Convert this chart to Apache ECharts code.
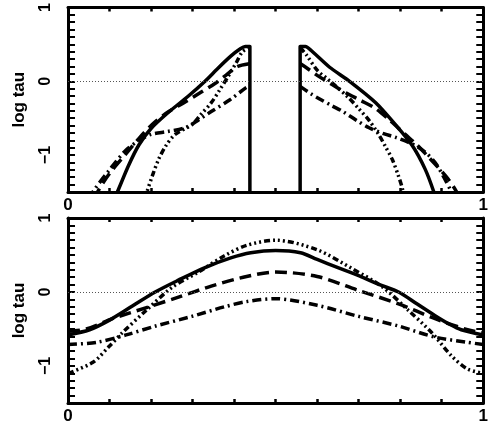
<!DOCTYPE html>
<html>
<head>
<meta charset="utf-8">
<script src="https://cdn.jsdelivr.net/npm/echarts@6/dist/echarts.min.js"></script>
<style>html,body{margin:0;padding:0;background:#fff}#c{width:491px;height:425px}</style>
</head>
<body>
<div id="c"></div>
<script>
// ---- Top panel (x: 0..1, log tau) ----
const topSolidL = [[0.112,-1.6],[0.119,-1.5],[0.145,-1.15],[0.171,-0.86],[0.2,-0.64],[0.242,-0.42],[0.29,-0.2],[0.33,0],[0.36,0.17],[0.392,0.34],[0.415,0.44],[0.427,0.47],[0.438,0.47],[0.438,-1.6]];
const topSolidR = [[0.559,-1.6],[0.559,0.47],[0.572,0.47],[0.585,0.42],[0.63,0.19],[0.678,0],[0.741,-0.29],[0.789,-0.59],[0.829,-0.87],[0.86,-1.19],[0.881,-1.5],[0.885,-1.6]];
const topDashL = [[0.065,-1.6],[0.071,-1.5],[0.1,-1.25],[0.14,-0.98],[0.17,-0.78],[0.202,-0.59],[0.24,-0.42],[0.282,-0.28],[0.32,-0.15],[0.354,-0.03],[0.38,0.08],[0.408,0.2],[0.438,0.24]];
const topDashR = [[0.559,0.24],[0.575,0.18],[0.6,0.08],[0.635,-0.04],[0.67,-0.16],[0.705,-0.26],[0.741,-0.37],[0.775,-0.53],[0.812,-0.72],[0.84,-0.86],[0.867,-1.02],[0.892,-1.17],[0.915,-1.32],[0.936,-1.5],[0.942,-1.6]];
const topDashDotL = [[0.055,-1.6],[0.06,-1.5],[0.1,-1.2],[0.14,-0.93],[0.175,-0.79],[0.2,-0.72],[0.24,-0.68],[0.282,-0.63],[0.315,-0.52],[0.345,-0.41],[0.39,-0.25],[0.428,-0.09],[0.438,-0.06]];
const topDashDotR = [[0.559,-0.07],[0.585,-0.17],[0.606,-0.24],[0.635,-0.33],[0.662,-0.41],[0.695,-0.53],[0.725,-0.63],[0.76,-0.71],[0.789,-0.76],[0.829,-0.85],[0.86,-0.96],[0.884,-1.1],[0.905,-1.3],[0.923,-1.5],[0.928,-1.6]];
const topDotL = [[0.185,-1.6],[0.19,-1.5],[0.205,-1.25],[0.218,-1.06],[0.235,-0.88],[0.258,-0.72],[0.298,-0.59],[0.32,-0.45],[0.345,-0.29],[0.365,-0.12],[0.385,0.06],[0.405,0.25],[0.42,0.4],[0.438,0.46]];
const topDotR = [[0.559,0.46],[0.575,0.35],[0.6,0.15],[0.625,0.03],[0.646,-0.07],[0.675,-0.22],[0.7,-0.37],[0.725,-0.53],[0.748,-0.72],[0.765,-0.89],[0.781,-1.06],[0.795,-1.27],[0.805,-1.45],[0.81,-1.6]];

// ---- Bottom panel ----
const botSolid = [[0,-0.58],[0.052,-0.51],[0.1,-0.38],[0.155,-0.19],[0.21,0],[0.266,0.16],[0.33,0.33],[0.392,0.46],[0.44,0.53],[0.5,0.56],[0.56,0.53],[0.6,0.44],[0.65,0.33],[0.7,0.22],[0.75,0.1],[0.796,0],[0.84,-0.16],[0.884,-0.32],[0.92,-0.44],[0.947,-0.51],[1,-0.58]];
const botDash = [[0,-0.53],[0.044,-0.5],[0.107,-0.36],[0.195,-0.2],[0.266,-0.07],[0.345,0.08],[0.43,0.21],[0.5,0.27],[0.6,0.21],[0.7,0.02],[0.796,-0.16],[0.884,-0.36],[0.962,-0.51],[1,-0.55]];
const botDashDot = [[0,-0.71],[0.069,-0.68],[0.14,-0.58],[0.211,-0.46],[0.298,-0.33],[0.377,-0.2],[0.43,-0.13],[0.5,-0.09],[0.6,-0.18],[0.7,-0.33],[0.796,-0.46],[0.884,-0.61],[0.962,-0.68],[1,-0.71]];
const botDot = [[0,-1.1],[0.06,-0.95],[0.1,-0.73],[0.131,-0.55],[0.188,-0.25],[0.25,0.06],[0.314,0.27],[0.377,0.49],[0.43,0.63],[0.5,0.7],[0.6,0.57],[0.686,0.31],[0.757,0.07],[0.82,-0.25],[0.876,-0.55],[0.923,-0.86],[0.962,-1.04],[1,-1.1]];

const xLabels = {0:'0', 1:'1'};
const yLabels = {1:'1', 0:'0', '-1':'\u22121'};

const FONT = 'Liberation Sans';
const near = (v, t) => Math.abs(v - t) < 1e-6;
function xFmt(v){ for (const k in xLabels) if (near(v, +k)) return xLabels[k]; return ''; }
function yFmt(v){ for (const k in yLabels) if (near(v, +k)) return yLabels[k]; return ''; }

const styles = {
  solid: {type:'solid'},
  dash: {type:[12,6]},
  dashdot: {type:[9,4,2,4]},
  dot: {type:[6,3,2,3,2,3,2,3]}
};

function line(data, st, gi, mark){
  const s = {
    type:'line', data, xAxisIndex: gi*2, yAxisIndex: gi*2, showSymbol:false, symbol:'none',
    smooth:0.3, clip:true, silent:true, animation:false,
    lineStyle:{color:'#000', width:3.5, type: styles[st].type, cap:'butt', join:'round'}
  };
  if (mark) s.markLine = {silent:true, symbol:'none', label:{show:false},
    lineStyle:{color:'#555', width:1, type:[1,2]}, data:[{yAxis:0}]};
  return s;
}

const grids = [
  {left:68, top:3, width:420, height:189},
  {left:68, top:218, width:420, height:189}
];
const axLine = {show:true, onZero:false, lineStyle:{color:'#000', width:3}};
const xAxes = [], yAxes = [];
grids.forEach((g, i) => {
  xAxes.push({type:'value', gridIndex:i, min:0, max:1, interval:0.1, position:'bottom',
    axisLine:axLine, axisTick:{inside:true, length:4, lineStyle:{color:'#000', width:2.5}},
    axisLabel:{formatter:xFmt, color:'#000', fontFamily:FONT, fontWeight:'bold', fontSize:17, margin:5, showMinLabel:true, showMaxLabel:true},
    splitLine:{show:false}});
  xAxes.push({type:'value', gridIndex:i, min:0, max:1, interval:0.1, position:'top',
    axisLine:axLine, axisTick:{inside:true, length:4, lineStyle:{color:'#000', width:2.5}},
    axisLabel:{show:false}, splitLine:{show:false}});
  yAxes.push({type:'value', gridIndex:i, min:-1.5, max:1, interval:0.1, position:'left',
    axisLine:axLine, axisTick:{inside:true, length:7, lineStyle:{color:'#000', width:2}},
    axisLabel:{formatter:yFmt, rotate:90, color:'#000', fontFamily:FONT, fontWeight:'bold', fontSize:16, margin:14, showMinLabel:true, showMaxLabel:true},
    name:'log tau', nameLocation:'middle', nameRotate:90, nameGap:40,
    nameTextStyle:{color:'#000', fontFamily:FONT, fontWeight:'bold', fontSize:17},
    splitLine:{show:false}});
  yAxes.push({type:'value', gridIndex:i, min:-1.5, max:1, interval:0.1, position:'right',
    axisLine:axLine, axisTick:{inside:true, length:7, lineStyle:{color:'#000', width:2}},
    axisLabel:{show:false}, splitLine:{show:false}});
});

const series = [
  line(topSolidL,'solid',0,true), line(topSolidR,'solid',0),
  line(topDashL,'dash',0), line(topDashR,'dash',0),
  line(topDashDotL,'dashdot',0), line(topDashDotR,'dashdot',0),
  line(topDotL,'dot',0), line(topDotR,'dot',0),
  line(botSolid,'solid',1,true), line(botDash,'dash',1),
  line(botDashDot,'dashdot',1), line(botDot,'dot',1)
];
series[0].smooth = 0.2; series[1].smooth = 0.2;

const chart = echarts.init(document.getElementById('c'), null, {renderer:'canvas'});
chart.setOption({animation:false, backgroundColor:'#fff', grid:grids, xAxis:xAxes, yAxis:yAxes, series});
</script>
</body>
</html>
